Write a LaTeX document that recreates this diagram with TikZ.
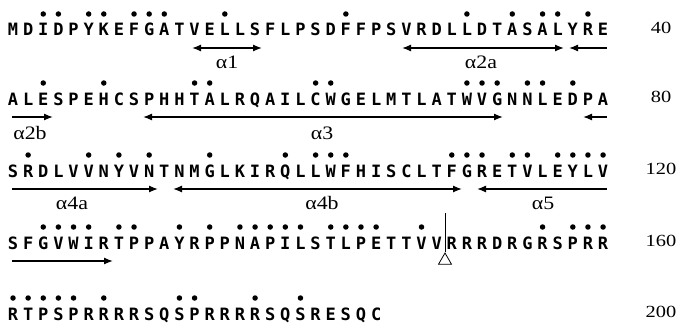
\documentclass[tikz,border=0pt]{standalone}
\usepackage{fontspec}
\setmainfont{Liberation Serif}
\newfontfamily\seqfont{DejaVu Sans Mono}
\usepackage{tikz}
\usetikzlibrary{arrows.meta, shapes.geometric}

\begin{document}
\begin{tikzpicture}[x=1pt,y=-1pt,>={Latex[length=9pt,width=7pt]},
       res/.style={font=\seqfont\bfseries\fontsize{17}{17}\selectfont,inner sep=0pt,anchor=base},
       hyd/.style={circle,fill=black,inner sep=0pt,minimum size=5.5pt},
       helix/.style={line width=1.3pt},
       lbl/.style={font=\fontsize{19}{19}\selectfont,inner sep=0pt,xscale=1.15},
       num/.style={font=\fontsize{17}{17}\selectfont,inner sep=0pt,xscale=1.2}]
       \useasboundingbox (0,0) rectangle (679,329);

       % Sequence, 40 residues per row
       \foreach \ltr [count=\i] in {M,D,I,D,P,Y,K,E,F,G,A,T,V,E,L,L,S,F,L,P,S,D,F,F,P,S,V,R,D,L,L,D,T,A,S,A,L,Y,R,E}
         \node[res] (r1-\i) at ({13+(\i-1)*15.13},36) {\ltr};
       \foreach \ltr [count=\i] in {A,L,E,S,P,E,H,C,S,P,H,H,T,A,L,R,Q,A,I,L,C,W,G,E,L,M,T,L,A,T,W,V,G,N,N,L,E,D,P,A}
         \node[res] (r2-\i) at ({13+(\i-1)*15.13},105) {\ltr};
       \foreach \ltr [count=\i] in {S,R,D,L,V,V,N,Y,V,N,T,N,M,G,L,K,I,R,Q,L,L,W,F,H,I,S,C,L,T,F,G,R,E,T,V,L,E,Y,L,V}
         \node[res] (r3-\i) at ({13+(\i-1)*15.13},177) {\ltr};
       \foreach \ltr [count=\i] in {S,F,G,V,W,I,R,T,P,P,A,Y,R,P,P,N,A,P,I,L,S,T,L,P,E,T,T,V,V,R,R,R,D,R,G,R,S,P,R,R}
         \node[res] (r4-\i) at ({13+(\i-1)*15.13},249) {\ltr};
       \foreach \ltr [count=\i] in {R,T,P,S,P,R,R,R,R,S,Q,S,P,R,R,R,R,S,Q,S,R,E,S,Q,C}
         \node[res] (r5-\i) at ({13+(\i-1)*15.13},320) {\ltr};

       % Dots above marked residues
       \foreach \i in {3,4,6,7,9,10,11,15,23,31,34,36,37,39}
         \node[hyd] (d1-\i) at ([yshift=22pt]r1-\i.base) {};
       \foreach \i in {3,7,13,14,21,22,31,32,33,35,36,38}
         \node[hyd] (d2-\i) at ([yshift=22pt]r2-\i.base) {};
       \foreach \i in {2,6,8,10,14,19,21,22,23,30,31,32,34,35,37,38,39,40}
         \node[hyd] (d3-\i) at ([yshift=22pt]r3-\i.base) {};
       \foreach \i in {3,4,5,6,8,9,12,14,16,17,18,19,20,22,23,24,25,28,36,38,39,40}
         \node[hyd] (d4-\i) at ([yshift=22pt]r4-\i.base) {};
       \foreach \i in {1,2,3,4,5,7,12,13,17,20}
         \node[hyd] (d5-\i) at ([yshift=22pt]r5-\i.base) {};

       % Helix ends
       \coordinate (h1s) at (192,48);  \coordinate (h1e) at (262,48);
       \coordinate (h2as) at (402,48); \coordinate (h2ae) at (564,48);
       \coordinate (h2bs) at (569,48); \coordinate (h2bm) at (607,48);
       \coordinate (h2bn) at (12,117); \coordinate (h2be) at (53,117);
       \coordinate (h3s) at (143,117); \coordinate (h3e) at (503,117);
       \coordinate (h4as) at (583,117); \coordinate (h4am) at (607,117);
       \coordinate (h4an) at (12,189); \coordinate (h4ae) at (158,189);
       \coordinate (h4bs) at (173,189); \coordinate (h4be) at (462,189);
       \coordinate (h5s) at (477,189); \coordinate (h5m) at (607,189);
       \coordinate (h5n) at (12,261); \coordinate (h5e) at (113,261);

       \draw[helix,<->] (h1s) -- (h1e);
       \draw[helix,<->] (h2as) -- (h2ae);
       \draw[helix,<-] (h2bs) -- (h2bm);
       \draw[helix,->] (h2bn) -- (h2be);
       \draw[helix,<->] (h3s) -- (h3e);
       \draw[helix,<-] (h4as) -- (h4am);
       \draw[helix,->] (h4an) -- (h4ae);
       \draw[helix,<->] (h4bs) -- (h4be);
       \draw[helix,<-] (h5s) -- (h5m);
       \draw[helix,->] (h5n) -- (h5e);

       % Helix names
       \node[lbl] (l1) at (227,62) {α1};
       \node[lbl] (l2a) at (481,62) {α2a};
       \node[lbl] (l2b) at (30,133) {α2b};
       \node[lbl] (l3) at (322,133) {α3};
       \node[lbl] (l4a) at (72,203) {α4a};
       \node[lbl] (l4b) at (322,203) {α4b};
       \node[lbl] (l5) at (543,203) {α5};

       % Cleavage mark
       \coordinate (cut) at (445,213);
       \node[regular polygon,regular polygon sides=3,draw,line width=0.8pt,inner sep=0pt,minimum size=15pt] (tri) at (445,260.5) {};
       \draw[line width=0.8pt] (cut) -- (tri.corner 1);

       % Residue numbers
       \node[num] (n40) at (661,28) {40};
       \node[num] (n80) at (661,97) {80};
       \node[num] (n120) at (661,169) {120};
       \node[num] (n160) at (661,241) {160};
       \node[num] (n200) at (661,312) {200};
\end{tikzpicture}
\end{document}
